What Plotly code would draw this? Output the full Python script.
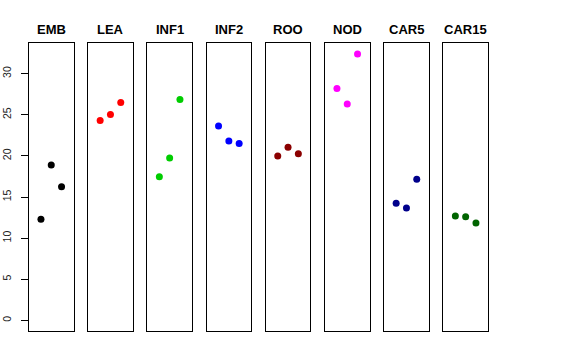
import plotly.graph_objects as go

panels = ["EMB", "LEA", "INF1", "INF2", "ROO", "NOD", "CAR5", "CAR15"]
colors = ["#000000", "#FF0000", "#00CD00", "#0000FF", "#8B0000", "#FF00FF", "#00008B", "#006400"]
x_pos = [1, 2, 3]
emb = [12.3, 18.9, 16.25]
lea = [24.3, 25.05, 26.5]
inf1 = [17.45, 19.75, 26.85]
inf2 = [23.65, 21.8, 21.5]
roo = [20.0, 21.05, 20.25]
nod = [28.2, 26.3, 32.4]
car5 = [14.25, 13.65, 17.15]
car15 = [12.7, 12.6, 11.85]
values = [emb, lea, inf1, inf2, roo, nod, car5, car15]
y_ticks = [0, 5, 10, 15, 20, 25, 30]

W, H = 576, 360
ymax = max(max(v) for v in values)
yrange = [0 - 0.04 * ymax, ymax * 1.04]
xrange_ = [0 - 0.04 * 4, 4 * 1.04]

fig = go.Figure()
left0, step, pw = 29.0, 59.2, 44.5
top_px, bot_px = 43.3, 331.0
annotations = []
for i, (name, col, vals) in enumerate(zip(panels, colors, values)):
    xa = "x" if i == 0 else f"x{i+1}"
    ya = "y" if i == 0 else f"y{i+1}"
    fig.add_trace(go.Scatter(x=x_pos, y=vals, mode="markers",
                             marker=dict(color=col, size=7, line=dict(width=0)),
                             xaxis=xa, yaxis=ya, showlegend=False))
    l = (left0 + step * i) / W
    r = (left0 + step * i + pw) / W
    xkey = "xaxis" if i == 0 else f"xaxis{i+1}"
    ykey = "yaxis" if i == 0 else f"yaxis{i+1}"
    fig.layout[xkey] = dict(domain=[l, r], range=xrange_, showgrid=False, zeroline=False,
                            showticklabels=False, ticks="", showline=True, mirror=True,
                            linecolor="black", linewidth=1, automargin=False,
                            anchor=ya)
    ydict = dict(domain=[(H - bot_px) / H, (H - top_px) / H], range=yrange, showgrid=False,
                 zeroline=False, showline=True, mirror=True, linecolor="black", linewidth=1,
                 automargin=False, anchor=xa)
    if i == 0:
        ydict.update(tickmode="array", tickvals=y_ticks, ticktext=[str(t) for t in y_ticks],
                     ticks="outside", ticklen=7, tickcolor="black", tickwidth=1,
                     tickangle=-90, ticklabelstandoff=6,
                     tickfont=dict(family="Liberation Sans, Arial, sans-serif", size=10.5, color="#222222"))
    else:
        ydict.update(showticklabels=False, ticks="")
    fig.layout[ykey] = ydict
    annotations.append(dict(text=f"<b>{name}</b>", x=(l + r) / 2, y=(H - 29) / H,
                            xref="paper", yref="paper", showarrow=False,
                            xanchor="center", yanchor="middle",
                            font=dict(family="Liberation Sans, Arial, sans-serif", size=13, color="black")))

fig.update_layout(width=W, height=H, margin=dict(l=0, r=0, t=0, b=0, autoexpand=False),
                  paper_bgcolor="white", plot_bgcolor="white",
                  annotations=annotations)
fig.write_html("out.html", config={"displayModeBar": False},
               post_script="document.body.style.margin='0';document.body.style.overflow='hidden';")
